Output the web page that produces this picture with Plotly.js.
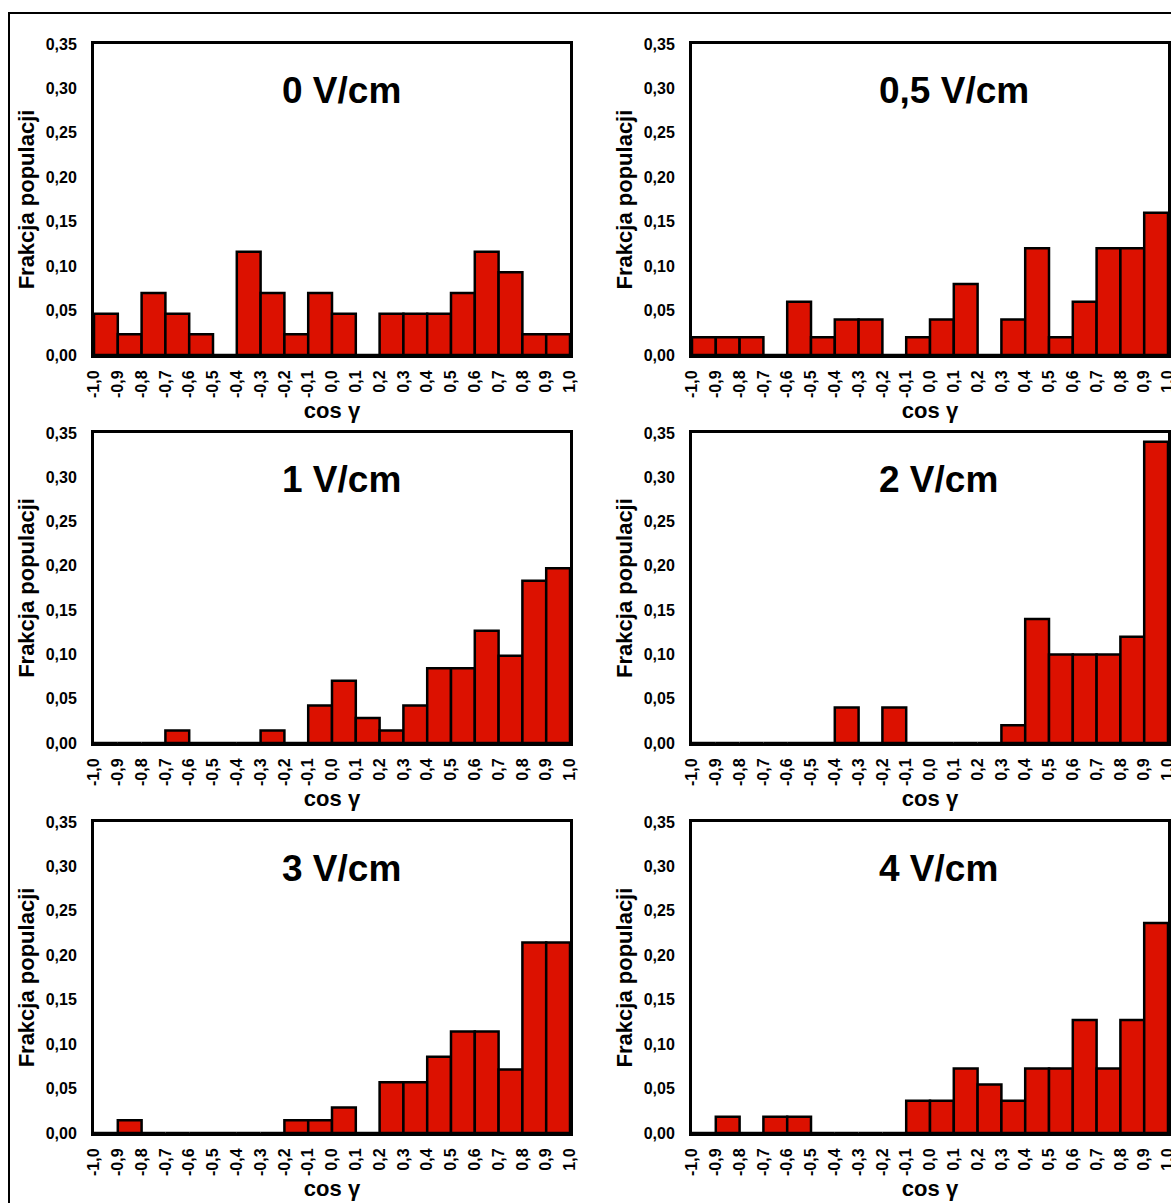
<!DOCTYPE html>
<html>
<head>
<meta charset="utf-8">
<script src="https://cdn.plot.ly/plotly-3.0.1.min.js"></script>
<style>
  html, body { margin: 0; padding: 0; background: #ffffff; }
  #chart { width: 1171px; height: 1203px; }
</style>
</head>
<body>
<div id="chart"></div>
<script>
// ---- data ----
const binStart = [-1.0, -0.9, -0.8, -0.7, -0.6, -0.5, -0.4, -0.3, -0.2, -0.1,
                   0.0,  0.1,  0.2,  0.3,  0.4,  0.5,  0.6,  0.7,  0.8,  0.9];
const tickVals = [-1.0, -0.9, -0.8, -0.7, -0.6, -0.5, -0.4, -0.3, -0.2, -0.1, 0.0,
                   0.1,  0.2,  0.3,  0.4,  0.5,  0.6,  0.7,  0.8,  0.9, 1.0];
const tickText = ['-1,0', '-0,9', '-0,8', '-0,7', '-0,6', '-0,5', '-0,4', '-0,3', '-0,2', '-0,1', '0,0',
                  '0,1', '0,2', '0,3', '0,4', '0,5', '0,6', '0,7', '0,8', '0,9', '1,0'];
const panelTitles = ['0 V/cm', '0,5 V/cm', '1 V/cm', '2 V/cm', '3 V/cm', '4 V/cm'];
const xTitle = 'cos γ';
const yTitle = 'Frakcja populacji';

const frac0V  = [0.0465, 0.0233, 0.0698, 0.0465, 0.0233, 0, 0.1163, 0.0698, 0.0233, 0.0698,
                 0.0465, 0, 0.0465, 0.0465, 0.0465, 0.0698, 0.1163, 0.0930, 0.0233, 0.0233];
const frac05V = [0.02, 0.02, 0.02, 0, 0.06, 0.02, 0.04, 0.04, 0, 0.02,
                 0.04, 0.08, 0, 0.04, 0.12, 0.02, 0.06, 0.12, 0.12, 0.16];
const frac1V  = [0, 0, 0, 0.0141, 0, 0, 0, 0.0141, 0, 0.0423,
                 0.0704, 0.0282, 0.0141, 0.0423, 0.0845, 0.0845, 0.1268, 0.0986, 0.1831, 0.1972];
const frac2V  = [0, 0, 0, 0, 0, 0, 0.04, 0, 0.04, 0,
                 0, 0, 0, 0.02, 0.14, 0.10, 0.10, 0.10, 0.12, 0.34];
const frac3V  = [0, 0.0143, 0, 0, 0, 0, 0, 0, 0.0143, 0.0143,
                 0.0286, 0, 0.0571, 0.0571, 0.0857, 0.1143, 0.1143, 0.0714, 0.2143, 0.2143];
const frac4V  = [0, 0.0182, 0, 0.0182, 0.0182, 0, 0, 0, 0, 0.0364,
                 0.0364, 0.0727, 0.0545, 0.0364, 0.0727, 0.0727, 0.1273, 0.0727, 0.1273, 0.2364];

const seriesList = [frac0V, frac05V, frac1V, frac2V, frac3V, frac4V];

// ---- layout geometry (pixels) ----
const W = 1171, H = 1203;
const cols = [[94, 570], [692, 1168]];
const rows = [[44, 355], [433, 743], [822, 1133]];
const titleLeft = [280, 877];

const FONT = 'Liberation Sans, Arial, Helvetica, sans-serif';
const BAR_RED = 'rgb(220,17,0)';

const traces = [];
const layout = {
  width: W, height: H,
  margin: {l: 0, r: 0, t: 0, b: 0},
  paper_bgcolor: '#ffffff',
  plot_bgcolor: '#ffffff',
  showlegend: false,
  separators: ',.',
  font: {family: FONT, color: '#000000'},
  annotations: [],
  shapes: [{
    type: 'rect', xref: 'paper', yref: 'paper',
    x0: 9 / W, x1: 1.2, y0: -0.2, y1: 1 - 13 / H,
    line: {color: '#000000', width: 2}, fillcolor: 'rgba(0,0,0,0)', layer: 'above'
  }]
};

seriesList.forEach((vals, i) => {
  const r = Math.floor(i / 2), c = i % 2;
  const n = i + 1;
  const xa = n === 1 ? 'x' : 'x' + n;
  const ya = n === 1 ? 'y' : 'y' + n;
  traces.push({
    type: 'bar',
    x: binStart,
    y: vals,
    width: 0.1,
    offset: 0,
    xaxis: xa, yaxis: ya,
    marker: {color: BAR_RED, line: {color: '#000000', width: 2.5}},
    hoverinfo: 'x+y'
  });
  const xKey = n === 1 ? 'xaxis' : 'xaxis' + n;
  const yKey = n === 1 ? 'yaxis' : 'yaxis' + n;
  layout[xKey] = {
    domain: [cols[c][0] / W, cols[c][1] / W],
    anchor: ya,
    range: [-1, 1],
    tickmode: 'array',
    tickvals: tickVals,
    ticktext: tickText,
    tickangle: -90,
    ticks: '',
    ticklabelstandoff: 6,
    ticklabeloverflow: 'allow',
    tickfont: {family: FONT, size: 16, weight: 'bold', color: '#000000'},
    showline: true, mirror: true, linecolor: '#000000', linewidth: 3,
    showgrid: false, zeroline: false, fixedrange: true,
    title: {text: xTitle, font: {family: FONT, size: 22, weight: 'bold', color: '#000000'}, standoff: 6}
  };
  layout[yKey] = {
    domain: [1 - rows[r][1] / H, 1 - rows[r][0] / H],
    anchor: xa,
    range: [0, 0.35],
    tickmode: 'linear', tick0: 0, dtick: 0.05,
    tickformat: '.2f',
    ticks: '',
    ticklabelstandoff: 11,
    tickfont: {family: FONT, size: 16, weight: 'bold', color: '#000000'},
    showline: true, mirror: true, linecolor: '#000000', linewidth: 3,
    showgrid: false, zeroline: false, fixedrange: true,
    title: {text: yTitle, font: {family: FONT, size: 22, weight: 'bold', color: '#000000'}, standoff: 5}
  };
  layout.annotations.push({
    text: panelTitles[i],
    xref: 'paper', yref: 'paper',
    x: titleLeft[c] / W, xanchor: 'left',
    y: 1 - (rows[r][0] + 46) / H, yanchor: 'middle',
    showarrow: false,
    font: {family: FONT, size: 37, weight: 'bold', color: '#000000'}
  });
});

Plotly.newPlot('chart', traces, layout, {displayModeBar: false, staticPlot: true});
</script>
</body>
</html>
